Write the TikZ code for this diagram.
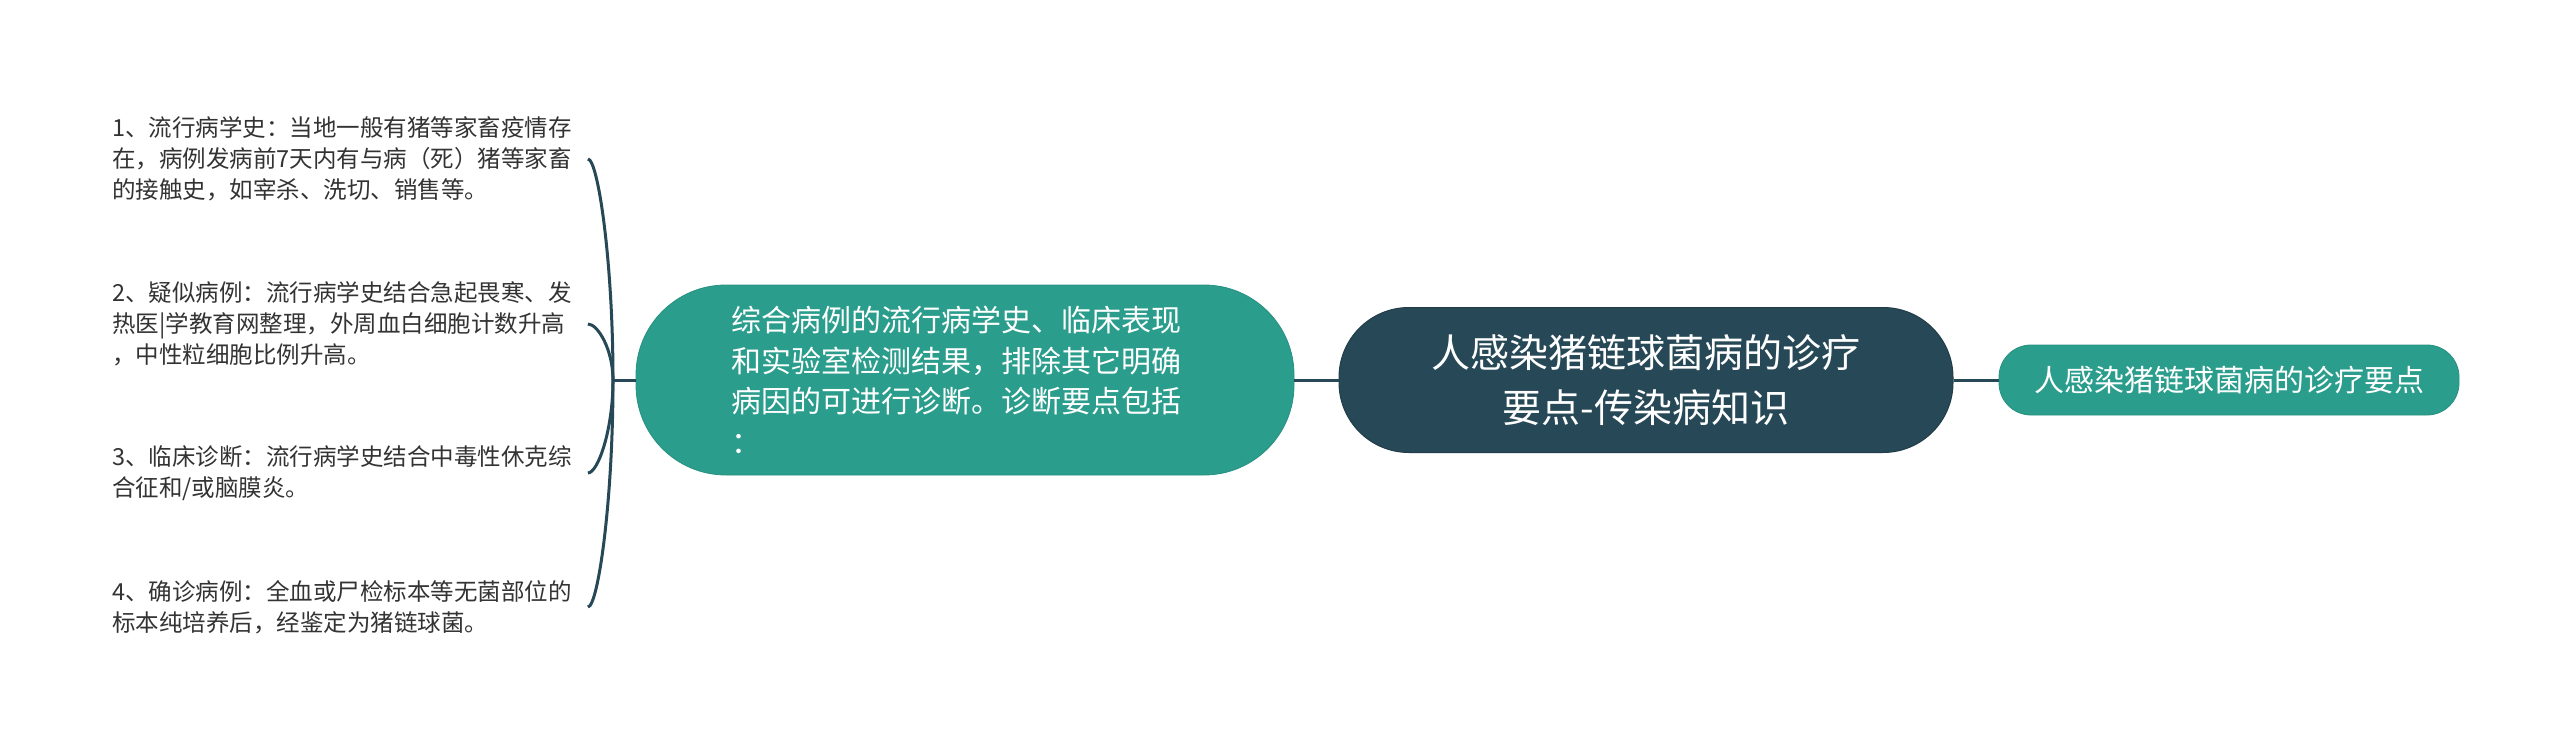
\documentclass[tikz,border=0pt]{standalone}
\usepackage{fontspec}
\setmainfont{Noto Sans CJK SC}
\usetikzlibrary{calc}
\definecolor{darkslate}{HTML}{274856}
\definecolor{tealfill}{HTML}{2A9D8C}
\definecolor{leaftext}{HTML}{333333}
\begin{document}
\begin{tikzpicture}[x=1pt,y=-1pt,
  rootbox/.style={fill=darkslate, draw=darkslate!85!black, line width=1pt, rounded corners=70,
    minimum width=614, minimum height=145, text=white, align=center, inner sep=0,
    font=\fontsize{39}{55}\selectfont},
  tealbox/.style={fill=tealfill, draw=tealfill!92!black, line width=0.8pt, text=white, inner sep=0},
  leafbox/.style={text width=470, align=left, inner xsep=5.5, inner ysep=0, anchor=west,
    text=leaftext, font=\fontsize{23.5}{31}\selectfont},
  link/.style={draw=darkslate, line width=3pt}]
\useasboundingbox (0,0) rectangle (2560,746);

\node[rootbox] (root) at (1646,380) {人感染猪链球菌病的诊疗\\要点-传染病知识};
\node[tealbox, minimum width=460, minimum height=70, rounded corners=32,
  font=\fontsize{30}{36}\selectfont] (right) at (2229,380) {人感染猪链球菌病的诊疗要点};
\node[tealbox, minimum width=658, minimum height=190, rounded corners=90, text width=468, align=left,
  font=\fontsize{30}{40.5}\selectfont] (mid) at (965,380)
  {综合病例的流行病学史、临床表现\\和实验室检测结果，排除其它明确\\病因的可进行诊断。诊断要点包括\\：};

\node[leafbox] (l1) at (106.5,159) {1、流行病学史：当地一般有猪等家畜疫情存\\在，病例发病前7天内有与病（死）猪等家畜\\的接触史，如宰杀、洗切、销售等。};
\node[leafbox] (l2) at (106.5,324) {2、疑似病例：流行病学史结合急起畏寒、发\\热医|学教育网整理，外周血白细胞计数升高\\，中性粒细胞比例升高。};
\node[leafbox] (l3) at (106.5,473) {3、临床诊断：流行病学史结合中毒性休克综\\合征和/或脑膜炎。};
\node[leafbox] (l4) at (106.5,607) {4、确诊病例：全血或尸检标本等无菌部位的\\标本纯培养后，经鉴定为猪链球菌。};

\draw[link] (mid.east) -- (root.west);
\draw[link] (root.east) -- (right.west);
\coordinate (hub) at (613,380);
\draw[link] (mid.west) -- (hub);
\foreach \l in {l1,l2,l3,l4}
  \draw[link] (hub) .. controls ($(hub)!0.54!(hub|-\l.east)$) and ($(\l.east)+(10,0)$) .. (\l.east);
\end{tikzpicture}
\end{document}
